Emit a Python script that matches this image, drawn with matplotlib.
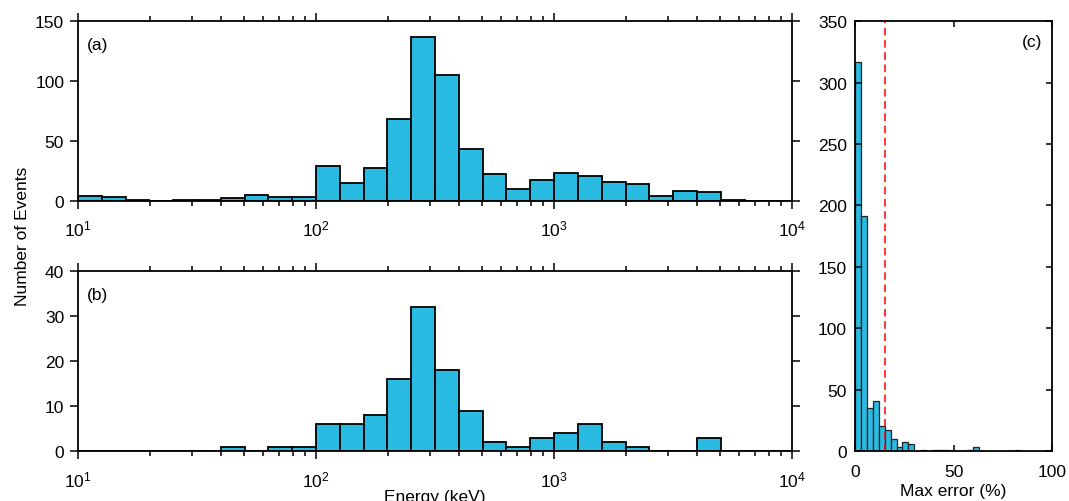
import numpy as np
import matplotlib
matplotlib.use("Agg")
import matplotlib.pyplot as plt
from matplotlib.ticker import LogLocator, MultipleLocator, NullFormatter

plt.rcParams['font.family'] = ['Liberation Sans', 'DejaVu Sans']
plt.rcParams['mathtext.fontset'] = 'custom'
plt.rcParams['mathtext.rm'] = 'Liberation Sans'
plt.rcParams['mathtext.default'] = 'regular'

# ---- data ----
# energy bins: 10 per decade, 10 keV to 10^4 keV
energy_edges = 10 ** np.linspace(1, 4, 31)
counts_a = [4, 3, 1, 0, 1, 1, 2, 5, 3, 3,
            29, 15, 27, 68, 137, 105, 43, 22, 10, 17,
            23, 21, 16, 14, 4, 8, 7, 1, 0, 0]
counts_b = [0, 0, 0, 0, 0, 0, 1, 0, 1, 1,
            6, 6, 8, 16, 32, 18, 9, 2, 1, 3,
            4, 6, 2, 1, 0, 0, 3, 0, 0, 0]
# max error bins: 3 % wide
error_edges = np.arange(0, 100 + 3, 3)[:34]
counts_c = [317, 191, 35, 41, 20, 17, 10, 3, 7, 6,
            0, 1, 0, 1, 1, 1, 0, 0, 0, 1,
            3, 0, 0, 0, 0, 0, 0, 1, 0, 0,
            0, 0, 0]
error_threshold = 15

bar_color = '#29BBE1'

fig = plt.figure(figsize=(10.69, 5.02), dpi=100)
ax_a = fig.add_axes([0.073, 0.598, 0.668, 0.358])
ax_b = fig.add_axes([0.073, 0.0996, 0.668, 0.358])
ax_c = fig.add_axes([0.800, 0.0996, 0.184, 0.8564])

fs = 12.5

def energy_panel(ax, counts, ymax, ystep, label):
    ax.bar(energy_edges[:-1], counts, width=np.diff(energy_edges), align='edge',
           color=bar_color, edgecolor='black', linewidth=1.3)
    ax.set_xscale('log')
    ax.set_xlim(10, 1e4)
    ax.set_ylim(0, ymax)
    ax.yaxis.set_major_locator(MultipleLocator(ystep))
    ax.xaxis.set_major_locator(LogLocator(base=10, numticks=10))
    ax.xaxis.set_minor_locator(LogLocator(base=10, subs=np.arange(2, 10), numticks=20))
    ax.xaxis.set_minor_formatter(NullFormatter())
    ax.tick_params(which='both', direction='out', top=True, right=True,
                   labelsize=fs, width=1.1)
    ax.tick_params(which='major', length=6, pad=4)
    ax.tick_params(axis='x', which='major', pad=7)
    ax.tick_params(which='minor', length=3.5)
    for s in ax.spines.values():
        s.set_linewidth(1.3)
    ax.text(0.012, 0.87, label, transform=ax.transAxes, fontsize=fs, va='center')

energy_panel(ax_a, counts_a, 150, 50, '(a)')
energy_panel(ax_b, counts_b, 40, 10, '(b)')
ax_b.set_xlabel('Energy (keV)', fontsize=fs, labelpad=0)

fig.text(0.021, 0.53, 'Number of Events', rotation=90, fontsize=fs,
         ha='center', va='center')

ax_c.bar(error_edges[:-1], counts_c, width=np.diff(error_edges), align='edge',
         color=bar_color, edgecolor='#222222', linewidth=0.9)
ax_c.axvline(error_threshold, color='#FF0000', linestyle=(0, (5, 3)), linewidth=1.1)
ax_c.set_xlim(0, 100)
ax_c.set_ylim(0, 350)
ax_c.xaxis.set_major_locator(MultipleLocator(50))
ax_c.yaxis.set_major_locator(MultipleLocator(50))
ax_c.tick_params(which='both', direction='in', top=True, right=True,
                 labelsize=fs, length=4, width=1.1, pad=6)
ax_c.tick_params(axis='x', pad=9)
for s in ax_c.spines.values():
    s.set_linewidth(1.3)
ax_c.set_xlabel('Max error (%)', fontsize=fs, labelpad=3)
ax_c.text(0.95, 0.952, '(c)', transform=ax_c.transAxes, fontsize=fs,
          ha='right', va='center')

fig.savefig('out.png', dpi=100)
